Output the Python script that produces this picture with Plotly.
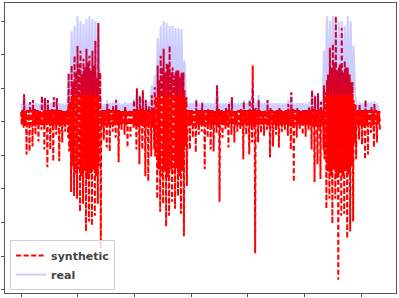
import numpy as np
import plotly.graph_objects as go

# Per-window readings from the picture (value units; y ticks every 34)
# synthetic: extreme high / extreme low / dense-core high / dense-core low
syn_high = [10, 28, 12, 20, 22, 12, 11, 26, 24, 22, 12, 25, 24, 12, 11, 10,
            49, 57, 67, 77, 72, 64, 74, 67, 72, 82, 100,
            12, 12, 18, 12, 16, 22, 12, 11, 16, 12, 12, 22, 34, 26, 32, 22, 16, 27,
            35, 57, 67, 74, 60, 77, 55, 50, 52, 49, 32,
            12, 12, 11, 22, 12, 19, 12, 14, 12, 11, 37, 12, 11, 14, 18, 25, 11, 12, 14, 20,
            12, 22, 57, 14, 22, 11, 12, 22, 14, 11, 12, 14, 11, 12, 18, 30, 12, 14, 11, 12,
            12, 16, 32, 26, 29, 20,
            37, 42, 75, 79, 107, 55, 95, 62, 55, 37, 22,
            12, 18, 12, 22, 12, 16, 18, 11]
syn_low = [-6, -33, -30, -25, -13, -20, -8, -28, -46, -28, -40, -13, -40, -21, -10, -16,
           -71, -75, -78, -91, -83, -111, -101, -105, -95, -83, -128,
           -18, -26, -30, -10, -16, -41, -8, -13, -26, -15, -6, -28, -43, -28, -55, -60, -35, -28,
           -78, -91, -83, -106, -95, -81, -88, -75, -93, -116, -65,
           -28, -16, -31, -13, -10, -48, -16, -28, -30, -11, -81, -16, -8, -26, -13, -21, -10, -8, -38, -13,
           -33, -21, -133, -21, -11, -14, -8, -36, -25, -13, -26, -10, -8, -14, -28, -61, -16, -8, -13, -15,
           -8, -28, -61, -43, -58, -28,
           -88, -78, -103, -78, -160, -95, -93, -118, -111, -101, -38,
           -18, -23, -38, -33, -11, -26, -21, -8]
syn_core_high = ([12, 11, 12, 12, 13, 12, 11, 12, 12, 12, 13, 12, 12, 12, 11, 12]
                 + [20, 40, 50, 58, 48, 55, 60, 52, 57, 45, 50]
                 + [12, 12, 13, 12, 12, 12, 11, 12, 12, 12, 12, 13, 12, 13, 12, 12, 12, 14]
                 + [25, 42, 55, 50, 58, 50, 47, 52, 45, 50, 25]
                 + [12, 12, 11, 12, 12, 12, 12, 12, 12, 11, 13, 12, 11, 12, 12, 12, 11, 12, 12, 12,
                    12, 12, 13, 12, 12, 11, 12, 12, 12, 11, 12, 12, 11, 12, 12, 13, 12, 12, 11, 12,
                    12, 12, 13, 12, 13, 12]
                 + [30, 48, 55, 60, 52, 58, 50, 55, 48, 40, 18]
                 + [12, 12, 12, 12, 12, 12, 12, 11])
syn_core_low = ([-3, -4, -3, -3, -4, -3, -3, -4, -3, -3, -4, -3, -3, -4, -3, -3]
                + [-30, -45, -52, -48, -55, -50, -58, -52, -48, -55, -45]
                + [-4, -4, -3, -3, -4, -3, -3, -3, -4, -3, -3, -4, -5, -4, -5, -5, -4, -6]
                + [-35, -48, -55, -50, -56, -48, -52, -47, -55, -50, -25]
                + [-4, -3, -4, -3, -3, -4, -3, -3, -4, -3, -5, -3, -3, -4, -3, -3, -3, -3, -4, -3,
                   -4, -3, -5, -3, -3, -3, -3, -4, -3, -3, -4, -3, -3, -3, -4, -5, -3, -3, -3, -3,
                   -3, -4, -5, -4, -5, -4]
                + [-38, -50, -55, -48, -57, -52, -55, -50, -53, -45, -22]
                + [-4, -4, -5, -4, -3, -4, -3, -3])
# real: high / low
real_high = [18, 28, 19, 20, 22, 19, 18, 26, 25, 22, 19, 25, 24, 19, 18, 18,
             49, 92, 97, 107, 102, 99, 104, 107, 104, 102, 100,
             19, 18, 22, 19, 20, 23, 19, 18, 20, 19, 19, 23, 32, 27, 30, 23, 20, 37,
             47, 85, 97, 102, 100, 97, 97, 95, 95, 94, 62,
             19, 19, 19, 23, 19, 20, 19, 19, 19, 19, 37, 19, 19, 19, 20, 25, 19, 19, 19, 22,
             19, 23, 34, 19, 27, 19, 19, 22, 19, 19, 19, 19, 19, 19, 22, 30, 19, 19, 19, 19,
             19, 20, 32, 27, 29, 22,
             72, 107, 102, 107, 107, 102, 102, 97, 107, 102, 77,
             19, 20, 19, 22, 19, 20, 21, 19]
real_low = ([11] * 16 + [17] + [27] * 10 + [11] * 18 + [27] * 11 + [11] * 46
            + [27] * 11 + [11] * 8)
window_length = 52.4   # time covered by each reading window

syn = np.array([v for w in zip(syn_high, syn_core_low, syn_core_high, syn_core_low,
                               syn_core_high, syn_low) for v in w], dtype=float)
real = np.array([v for w in zip(real_high, real_low) for v in w], dtype=float)
t_syn = np.arange(len(syn)) * window_length / 6
t_real = np.arange(len(real)) * window_length / 2

def padded(lo, hi, frac):
    m = frac * (hi - lo)
    return [lo - m, hi + m]

ymin = min(syn.min(), real.min()); ymax = max(syn.max(), real.max())

fig = go.Figure()
fig.add_trace(go.Scatter(x=t_syn, y=syn, mode="lines", name="synthetic",
                         line=dict(color="red", width=2, dash="5px,2.5px")))
fig.add_trace(go.Scatter(x=t_real, y=real, mode="lines", name="real",
                         line=dict(color="rgba(0,0,255,0.2)", width=2)))

axis_common = dict(showgrid=False, zeroline=False, showline=True, mirror=True,
                   linecolor="#555", linewidth=1, ticks="outside", ticklen=3,
                   tickcolor="#555", showticklabels=False)
fig.update_xaxes(range=padded(t_syn.min(), t_syn.max(), 0.045), tick0=0, dtick=1000,
                 **axis_common)
fig.update_yaxes(range=padded(ymin, ymax, 0.05), tick0=0, dtick=34, **axis_common)

fig.update_layout(
    width=399, height=298,
    margin=dict(l=3, r=3, t=2, b=2),
    paper_bgcolor="white", plot_bgcolor="white",
    showlegend=True,
    legend=dict(x=0.013, y=0.01, xanchor="left", yanchor="bottom",
                bgcolor="rgba(255,255,255,0.8)", bordercolor="#d0d0d0", borderwidth=1,
                font=dict(family="DejaVu Sans", size=11, color="#444", weight="bold"),
                tracegroupgap=0, itemwidth=30),
)
fig.write_html("out.html", config={"displayModeBar": False},
               post_script="document.body.style.margin='0';")
